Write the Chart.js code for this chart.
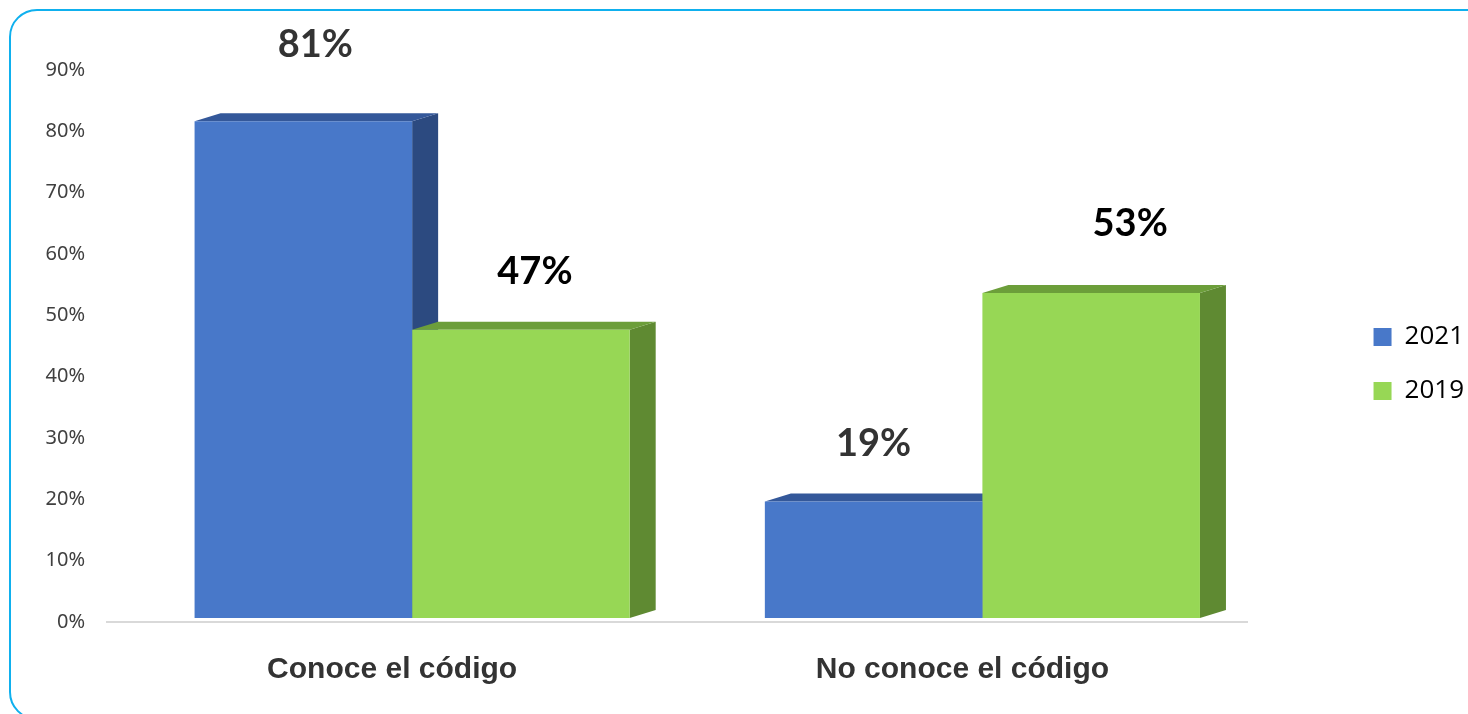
<!DOCTYPE html>
<html lang="es">
<head>
  <meta charset="UTF-8" />
  <title>Conoce el código – 2021 vs 2019</title>
  <script src="https://cdn.jsdelivr.net/npm/chart.js"></script>
  <style>
    html, body {
      margin: 0;
      padding: 0;
      background: #fff;
      overflow: hidden;
    }
    .frame {
      position: absolute;
      left: 9px;
      top: 9px;
      width: 1540px;
      height: 711px;
      border: 2px solid #0fb0ee;
      border-radius: 28px;
      box-sizing: border-box;
    }
    .chart-box {
      position: absolute;
      left: 0;
      top: 0;
      width: 1468px;
      height: 714px;
    }
  </style>
</head>
<body>
  <div class="frame"></div>
  <div class="chart-box"><canvas id="chart"></canvas></div>

  <script>
    // data
    const categories = ["Conoce el código", "No conoce el código"];
    const values2021 = [81, 19];
    const values2019 = [47, 53];
    const yMax = 90;
    const yStep = 10;

    // pseudo 3D look: front faces shifted, depth drawn to the upper right
    const SHIFT_X = 20, SHIFT_Y = -4;
    const DEPTH_X = 26, DEPTH_Y = -8;

    const bar3d = {
      id: 'bar3d',
      // top and side faces go first so the front faces cover them
      beforeDatasetsDraw(chart) {
        const ctx = chart.ctx;
        ctx.save();
        ctx.translate(SHIFT_X, SHIFT_Y);
        chart.data.datasets.forEach((ds, i) => {
          chart.getDatasetMeta(i).data.forEach(el => {
            const { x, y, base, width } = el.getProps(['x', 'y', 'base', 'width'], true);
            const l = x - width / 2, r = x + width / 2;
            ctx.fillStyle = ds.sideColor;
            ctx.beginPath();
            ctx.moveTo(r, y);
            ctx.lineTo(r + DEPTH_X, y + DEPTH_Y);
            ctx.lineTo(r + DEPTH_X, base + DEPTH_Y);
            ctx.lineTo(r, base);
            ctx.closePath();
            ctx.fill();
            ctx.fillStyle = ds.topColor;
            ctx.beginPath();
            ctx.moveTo(l, y);
            ctx.lineTo(l + DEPTH_X, y + DEPTH_Y);
            ctx.lineTo(r + DEPTH_X, y + DEPTH_Y);
            ctx.lineTo(r, y);
            ctx.closePath();
            ctx.fill();
          });
        });
        ctx.restore();
      },
      beforeDatasetDraw(chart) {
        chart.ctx.save();
        chart.ctx.translate(SHIFT_X, SHIFT_Y);
      },
      afterDatasetDraw(chart) {
        chart.ctx.restore();
      },
      afterDatasetsDraw(chart, args, opts) {
        const ctx = chart.ctx;
        ctx.save();
        ctx.font = 'bold 38px Lato, sans-serif';
        ctx.textAlign = 'center';
        ctx.textBaseline = 'middle';
        chart.data.datasets.forEach((ds, i) => {
          chart.getDatasetMeta(i).data.forEach((el, j) => {
            const nudge = opts.nudges[i][j];
            ctx.fillStyle = opts.colors[i];
            ctx.fillText(ds.data[j] + '%', el.x + SHIFT_X + nudge[0], el.y + SHIFT_Y + nudge[1]);
          });
        });
        ctx.restore();
      }
    };

    new Chart(document.getElementById('chart'), {
      type: 'bar',
      data: {
        labels: categories,
        datasets: [
          {
            label: '2021',
            data: values2021,
            backgroundColor: '#4878c9',
            topColor: '#34589a',
            sideColor: '#2c4a80',
            clip: false
          },
          {
            label: '2019',
            data: values2019,
            backgroundColor: '#97d755',
            topColor: '#6c9e3a',
            sideColor: '#5f8a32',
            clip: false
          }
        ]
      },
      options: {
        responsive: true,
        maintainAspectRatio: false,
        animation: false,
        layout: { padding: { top: 14, right: -6, bottom: 0, left: 0 } },
        datasets: {
          bar: { barPercentage: 1, categoryPercentage: 0.763, borderWidth: 0 }
        },
        scales: {
          x: {
            grid: { display: false, drawTicks: false },
            border: { display: true, color: '#d9d9d9', width: 2 },
            ticks: {
              padding: 30,
              color: '#333',
              font: { family: 'Liberation Sans, Arial, sans-serif', size: 30, weight: 'bold' }
            },
            afterFit: s => { s.height = 92; }
          },
          xTop: {
            type: 'category',
            position: 'top',
            labels: categories,
            grid: { display: false, drawTicks: false },
            border: { display: false },
            ticks: { display: false },
            afterFit: s => { s.height = 56; }
          },
          y: {
            min: 0,
            max: yMax,
            grid: { display: false, drawTicks: false },
            border: { display: false },
            ticks: {
              stepSize: yStep,
              padding: 22,
              color: '#404040',
              font: { family: 'Noto Sans, sans-serif', size: 20 },
              callback: v => v + '%'
            },
            afterFit: s => { s.width = 107; }
          },
          yRight: {
            type: 'linear',
            position: 'right',
            grid: { display: false, drawTicks: false },
            border: { display: false },
            ticks: { display: false },
            afterFit: s => { s.width = 98; }
          }
        },
        plugins: {
          tooltip: { enabled: false },
          legend: {
            position: 'right',
            labels: {
              boxWidth: 18,
              boxHeight: 18,
              padding: 28,
              color: '#000',
              font: { family: 'Open Sans, sans-serif', size: 26 }
            }
          },
          bar3d: {
            colors: ['#333', '#000'],
            nudges: [
              [[12, -76], [0, -58]],
              [[14, -58], [39, -69]]
            ]
          }
        }
      },
      plugins: [bar3d]
    });
  </script>
</body>
</html>
